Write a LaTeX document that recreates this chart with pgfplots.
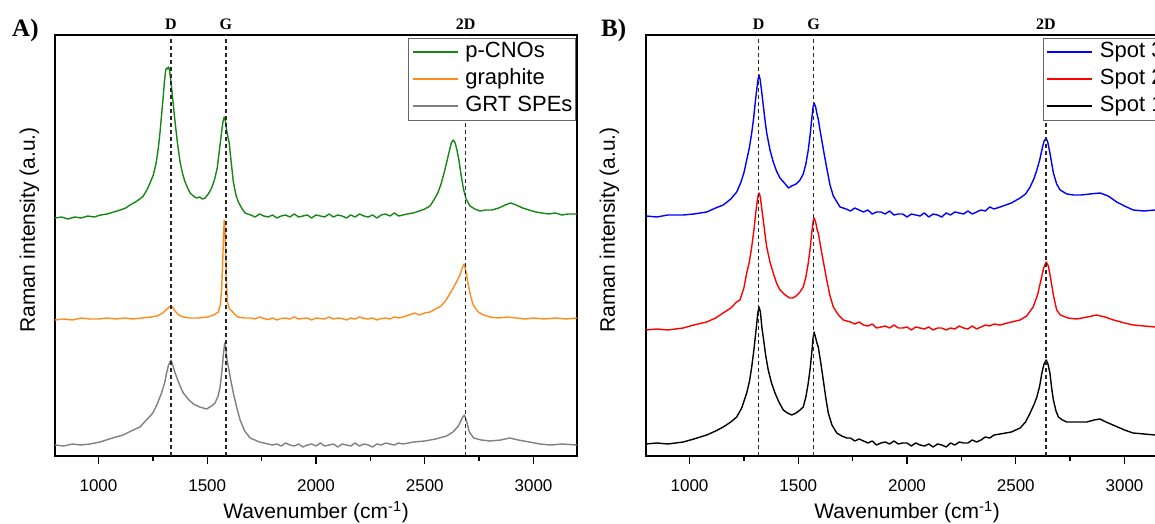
\documentclass[border=0pt]{standalone}
\usepackage{pgfplots}
\pgfplotsset{compat=1.18}
\usepackage{fontspec}
\setmainfont{Liberation Sans}
\newfontfamily\timesfont{Liberation Serif}
\definecolor{cgreen}{RGB}{22,135,22}
\definecolor{corange}{RGB}{255,140,26}
\definecolor{cgray}{RGB}{128,128,128}
\definecolor{cblue}{RGB}{0,0,255}
\definecolor{cred}{RGB}{255,0,0}
\definecolor{cdash}{RGB}{40,40,40}
\newcommand{\labfont}{\fontsize{21}{25}\selectfont}

\pgfplotsset{
  ramanaxis/.style={
    scale only axis, width=522pt, height=421pt,
    anchor=south west,
    xmin=800, xmax=3200, ymin=2, ymax=423,
    xtick={1000,1500,2000,2500,3000},
    minor xtick={1250,1750,2250,2750},
    ytick=\empty,
    xtick pos=bottom, tick align=outside,
    major tick length=8pt, minor tick length=5pt,
    every tick/.style={black, line width=1.3pt},
    every minor tick/.style={black, line width=1.3pt},
    axis line style={line width=1.3pt, black},
    /pgf/number format/assume math mode=true,
    /pgf/number format/1000 sep={},
    xticklabel style={font=\fontsize{17}{20}\selectfont, anchor=base, yshift=-27pt},
    xlabel={Wavenumber (cm\textsuperscript{-1})},
    ylabel={Raman intensity (a.u.)},
    every axis x label/.style={at={(axis description cs:0.5,-0.1496)}, anchor=base, font=\labfont},
    clip=false,
    legend style={
      at={(rel axis cs:1,1)}, anchor=north east, xshift=-1pt, yshift=-3pt,
      draw=black!60, line width=1pt, fill=white,
      inner xsep=3pt, inner ysep=4pt,
      font=\fontsize{22}{26}\selectfont,
      row sep=7pt, column sep=6.5pt,
      nodes={inner sep=0pt, text height=15pt, text depth=5pt},
      cells={anchor=west},
    },
    legend image code/.code={\draw[#1, line width=2pt] (0pt,0pt) -- (45pt,0pt);},
    every axis plot/.append style={line width=1.4pt, line join=round},
  },
  peakline/.style={cdash, dash pattern=on 4pt off 3pt, line width=1.5pt, forget plot},
}
\newcommand{\peaklab}{\fontsize{16}{18}\timesfont\bfseries}

\begin{document}
\begin{tikzpicture}[x=1pt,y=1pt]
% ---------------- Panel A ----------------
\begin{axis}[ramanaxis, at={(55pt,68pt)},
  every axis y label/.style={at={(axis description cs:-0.0489,0.537)}, rotate=90, anchor=center, font=\labfont}]
\addplot[cgreen] coordinates {
(800,240) (830,241) (860,239) (890,241) (920,240) (950,242) (980,241) (1010,243)
(1040,244) (1070,246) (1100,248) (1125,250) (1145,253) (1170,256) (1190,259)
(1206,262) (1220,267) (1235,274) (1252,283) (1265,295) (1275,310) (1283,326)
(1290,343) (1297,360) (1303,376) (1309,388) (1314,390) (1318,389) (1322,391)
(1326,389) (1331,380) (1336,370) (1344,353) (1352,336) (1363,315) (1375,296)
(1387,284) (1398,276) (1410,270) (1421,265) (1436,262) (1451,260) (1465,261)
(1478,259) (1490,260) (1505,264) (1520,270) (1533,278) (1546,290) (1556,308)
(1566,326) (1572,336) (1578,341) (1583,338) (1589,328) (1595,321) (1601,315)
(1610,296) (1620,276) (1632,263) (1643,256) (1658,250) (1674,245) (1686,244)
(1700,243) (1720,241) (1740,244) (1760,242) (1780,241) (1800,243) (1820,240)
(1840,242) (1860,243) (1880,241) (1900,244) (1920,241) (1940,242) (1960,243)
(1980,240) (2000,243) (2020,242) (2040,241) (2060,244) (2080,241) (2100,243)
(2120,242) (2140,240) (2160,243) (2180,241) (2200,244) (2220,242) (2240,241)
(2260,243) (2280,240) (2300,243) (2320,244) (2340,242) (2360,245) (2380,242)
(2400,243) (2420,244) (2447,245) (2475,247) (2500,249) (2524,252)
(2545,259) (2560,265) (2575,274) (2590,286) (2601,296) (2612,306) (2622,315)
(2631,318) (2640,315) (2648,308) (2657,298) (2667,283) (2677,270) (2690,259)
(2708,252) (2730,249) (2754,247) (2780,248) (2810,248) (2840,250) (2870,253)
(2895,255) (2920,253) (2950,250) (2980,248) (3010,246) (3040,245) (3070,244)
(3100,245) (3130,243) (3160,244) (3200,244)
};
\addlegendentry{p-CNOs}
\addplot[corange] coordinates {
(800,138) (840,139) (880,138) (920,140) (960,139) (1000,139) (1040,140) (1080,139)
(1120,140) (1160,139) (1200,140) (1240,141) (1270,142) (1295,145) (1315,149)
(1330,152) (1340,151) (1352,147) (1368,143) (1390,141) (1420,140) (1460,140)
(1500,141) (1530,143) (1551,146) (1560,153) (1566,168) (1571,196) (1575,223)
(1578,238) (1581,232) (1585,203) (1589,173) (1593,156) (1600,150) (1612,147)
(1625,144) (1640,141) (1670,140) (1700,140) (1720,139) (1740,141) (1760,139.5)
(1780,138.5) (1800,140) (1820,138) (1840,139.5) (1860,140) (1880,139) (1900,141)
(1920,139) (1940,139.5) (1960,140) (1980,138) (2000,140) (2020,139.5) (2040,139)
(2060,141) (2080,139) (2100,140) (2120,139.5) (2140,138) (2160,140) (2180,139)
(2200,141) (2220,139.5) (2240,139) (2260,140) (2280,138) (2300,139.5) (2320,140)
(2340,139) (2360,141) (2380,140) (2400,141) (2440,144) (2455,145) (2475,143)
(2500,145) (2524,146) (2550,149) (2575,152) (2595,157) (2612,163) (2631,170)
(2648,177) (2662,183) (2672,190) (2681,194) (2690,186) (2700,173) (2712,161)
(2723,153) (2746,146) (2770,143) (2800,141) (2840,140) (2880,141) (2920,140)
(2960,139) (3000,140) (3050,139) (3100,140) (3150,139) (3200,140)
};
\addlegendentry{graphite}
\addplot[cgray] coordinates {
(800,13) (840,12) (880,14) (920,13) (960,14) (1007,16) (1050,19) (1080,21)
(1113,23) (1150,27) (1191,31) (1220,38) (1250,45) (1270,54) (1290,65) (1305,76)
(1313,85) (1322,93) (1333,98) (1340,94) (1349,87) (1359,81) (1375,72) (1390,65)
(1412,59) (1436,54) (1465,51) (1497,49) (1520,52) (1536,55) (1550,62) (1559,71)
(1567,86) (1574,103) (1580,115) (1585,110) (1591,98) (1597,91) (1608,78)
(1620,65) (1635,51) (1651,38) (1672,27) (1697,20) (1740,16) (1780,14) (1800,13)
(1820,14) (1840,12) (1860,15) (1880,13) (1900,12) (1920,14) (1940,11) (1960,13)
(1980,14) (2000,12) (2020,15) (2040,12) (2060,13) (2080,14) (2100,11) (2120,14)
(2140,13) (2160,12) (2180,15) (2200,12) (2220,14) (2240,13) (2260,11) (2280,14)
(2300,13) (2320,15) (2340,14) (2360,13) (2380,15) (2400,14) (2450,16) (2500,17)
(2550,19) (2600,22) (2630,26)
(2655,32) (2672,40) (2682,43) (2692,37) (2705,26) (2725,20) (2760,18) (2800,17)
(2850,18) (2890,20) (2930,18) (2980,16) (3030,14) (3080,13) (3130,14) (3200,13)
};
\addlegendentry{GRT SPEs}
\addplot[peakline] coordinates {(1333,2) (1333,423)};
\addplot[peakline] coordinates {(1586,2) (1586,423)};
\addplot[peakline] coordinates {(2688,2) (2688,423)};
\node[anchor=base, inner sep=0pt, yshift=5pt] at (axis cs:1333,423) {\peaklab D};
\node[anchor=base, inner sep=0pt, yshift=5pt] at (axis cs:1586,423) {\peaklab G};
\node[anchor=base, inner sep=0pt, yshift=5pt] at (axis cs:2688,423) {\peaklab 2D};
\end{axis}

% ---------------- Panel B ----------------
\begin{axis}[ramanaxis, at={(646pt,68pt)},
  every axis y label/.style={at={(axis description cs:-0.0699,0.537)}, rotate=90, anchor=center, font=\labfont}]
\addplot[cblue] coordinates {
(800,242) (850,241) (900,243) (971,243) (1020,244) (1079,246) (1120,250) (1155,253)
(1190,259) (1217,266) (1235,275) (1250,285) (1263,298) (1275,310) (1286,325)
(1295,340) (1301,353) (1310,370) (1316,380) (1320,383) (1325,378) (1332,366)
(1339,353) (1347,338) (1355,325) (1370,308) (1385,296) (1400,287) (1416,280)
(1440,274) (1455,270) (1470,272) (1490,274) (1508,278) (1523,284) (1535,294)
(1546,308) (1555,324) (1562,339) (1568,351) (1573,355) (1580,351) (1586,344)
(1592,339) (1600,328) (1608,318) (1620,303) (1631,290) (1646,273) (1661,262)
(1692,251) (1720,249) (1740,247) (1760,250) (1780,248) (1800,246) (1820,248)
(1840,244) (1860,246) (1880,246) (1900,244) (1920,247) (1940,243) (1960,244)
(1980,244) (2000,241) (2020,244) (2040,243) (2060,242) (2080,245) (2100,241)
(2120,244) (2140,243) (2160,241) (2180,245) (2200,243) (2220,246) (2240,245)
(2260,244) (2280,247) (2300,244) (2320,246) (2340,248) (2360,247) (2380,251)
(2400,249) (2428,251) (2480,255) (2520,260) (2545,264) (2566,271) (2585,280)
(2597,288) (2610,298) (2620,308) (2630,317) (2640,320) (2648,315) (2657,305)
(2665,295) (2673,285) (2688,274) (2704,268) (2735,264) (2765,263) (2800,263)
(2840,264) (2888,265) (2925,262) (2964,256) (3000,252) (3040,248) (3090,247)
(3140,248) (3200,247)
};
\addlegendentry{Spot 3}
\addplot[cred] coordinates {
(800,128) (850,129) (900,128) (971,130) (1020,133) (1079,136) (1120,140) (1155,145)
(1190,150) (1217,156) (1232,158) (1250,170) (1263,185) (1275,196) (1286,211)
(1295,226) (1301,238) (1310,255) (1316,263) (1321,265) (1326,260) (1332,250)
(1339,238) (1347,224) (1355,211) (1370,196) (1385,185) (1400,175) (1416,168)
(1440,163) (1460,160) (1475,160) (1490,162) (1508,166) (1523,171) (1535,181)
(1546,195) (1555,210) (1562,225) (1568,236) (1573,240) (1580,236) (1586,229)
(1592,225) (1600,215) (1608,205) (1620,191) (1631,178) (1645,163) (1661,151)
(1685,143) (1707,138) (1740,136) (1760,134) (1780,136) (1800,133) (1820,132)
(1840,134) (1860,130) (1880,131) (1900,132) (1920,130) (1940,133) (1960,130)
(1980,130) (2000,131) (2020,128) (2040,131) (2060,130) (2080,129) (2100,131)
(2120,128) (2140,130) (2160,130) (2180,128) (2200,130) (2220,129) (2240,132)
(2260,130) (2280,129) (2300,132) (2320,129) (2340,131) (2360,133) (2380,132)
(2400,134) (2428,133) (2480,136) (2520,138) (2550,142) (2580,151) (2600,163)
(2615,177) (2628,190) (2640,196) (2650,192) (2660,180) (2673,163) (2688,148)
(2705,143) (2740,140) (2780,139) (2830,141) (2872,143) (2910,141) (2950,138)
(3000,135) (3040,133) (3090,132) (3140,131) (3200,130)
};
\addlegendentry{Spot 2}
\addplot[black] coordinates {
(800,14) (850,15) (900,14) (971,16) (1020,19) (1079,23) (1120,27) (1155,31)
(1190,36) (1217,41) (1240,50) (1263,65) (1276,77) (1286,91) (1296,108) (1306,128)
(1314,145) (1320,151) (1326,146) (1333,130) (1339,121) (1350,103) (1362,88)
(1377,75) (1393,65) (1411,56) (1431,48) (1450,45) (1470,43) (1490,45) (1508,48)
(1523,51) (1535,61) (1546,75) (1555,90) (1562,105) (1568,120) (1573,126)
(1579,121) (1586,115) (1592,111) (1603,96) (1615,78) (1626,61) (1638,45)
(1655,33) (1677,25) (1700,22) (1723,20) (1740,20) (1760,17) (1780,19) (1800,17)
(1820,15) (1840,17) (1860,13) (1880,15) (1900,16) (1920,14) (1940,17) (1960,14)
(1980,15) (2000,15) (2020,12) (2040,15) (2060,13) (2080,12) (2100,14) (2120,11)
(2140,14) (2160,13) (2180,11) (2200,15) (2220,13) (2240,16) (2260,15) (2280,15)
(2300,18) (2320,16) (2340,18) (2360,21) (2380,20) (2400,23) (2428,24) (2480,26)
(2520,30) (2545,36) (2566,45) (2585,54) (2597,61) (2610,72)
(2620,85) (2630,94) (2640,98) (2648,94) (2657,85) (2665,70) (2673,58) (2685,47)
(2696,41) (2715,38) (2734,36) (2780,36) (2826,36) (2860,38) (2887,39) (2915,36)
(2947,33) (3000,28) (3039,25) (3090,24) (3140,23) (3200,22)
};
\addlegendentry{Spot 1}
\addplot[peakline] coordinates {(1318,2) (1318,423)};
\addplot[peakline] coordinates {(1571,2) (1571,423)};
\addplot[peakline] coordinates {(2638,2) (2638,423)};
\node[anchor=base, inner sep=0pt, yshift=5pt] at (axis cs:1318,423) {\peaklab D};
\node[anchor=base, inner sep=0pt, yshift=5pt] at (axis cs:1571,423) {\peaklab G};
\node[anchor=base, inner sep=0pt, yshift=5pt] at (axis cs:2638,423) {\peaklab 2D};
\end{axis}

\node[anchor=base west, inner sep=0pt] at (12pt,487pt) {\fontsize{25}{27}\timesfont\bfseries A)};
\node[anchor=base west, inner sep=0pt] at (601pt,487pt) {\fontsize{25}{27}\timesfont\bfseries B)};

\pgfresetboundingbox
\path[use as bounding box] (0pt,0pt) rectangle (1155pt,524pt);
\end{tikzpicture}
\end{document}
